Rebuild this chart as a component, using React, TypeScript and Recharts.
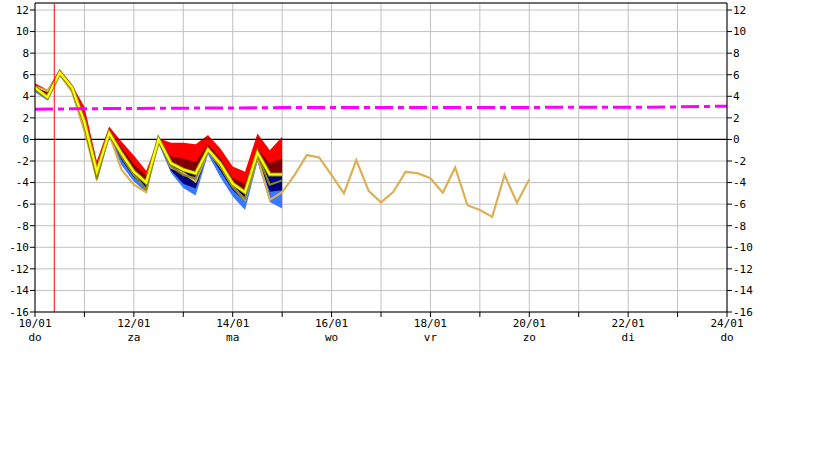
import React from "react";
import {
  ComposedChart,
  Area,
  Line,
  XAxis,
  YAxis,
  CartesianGrid,
  ReferenceLine,
} from "recharts";

// 6-hourly steps from 10/01 00:00, ensemble band (first 5 days)
const bandMax = [5.2, 4.6, 6.5, 5.1, 3.0, -2.0, 1.2, -0.2, -1.5, -2.9, 0.1, -0.3, -0.3, -0.45, 0.4, -0.85, -2.5, -3.0, 0.55, -1.0, 0.24];
const bandP75 = [5.0, 4.3, 6.4, 4.9, 2.2, -2.5, 0.9, -0.8, -2.3, -3.4, 0.0, -1.6, -1.8, -2.1, -0.5, -1.8, -3.6, -4.1, -0.9, -2.2, -1.76];
const bandMed = [4.8, 4.0, 6.2, 4.8, 1.6, -3.0, 0.6, -1.3, -3.0, -4.0, -0.1, -2.2, -2.8, -3.15, -0.93, -2.3, -4.1, -4.9, -1.24, -3.25, -3.25];
const bandP25 = [4.6, 3.8, 6.1, 4.6, 1.1, -3.4, 0.4, -1.9, -3.5, -4.5, -0.2, -2.85, -4.1, -4.55, -1.15, -2.9, -4.7, -5.7, -1.7, -4.85, -4.7];
const bandMin = [4.4, 3.6, 6.0, 4.4, 0.6, -3.7, 0.2, -2.4, -3.9, -4.9, -0.4, -3.1, -4.5, -5.2, -1.4, -3.5, -5.3, -6.55, -2.1, -5.8, -6.4];
const yellowRun = [4.8, 3.9, 6.2, 4.8, 1.6, -3.0, 0.6, -1.3, -3.0, -4.0, 0.0, -2.2, -2.8, -3.15, -0.93, -2.25, -4.1, -4.9, -1.24, -3.25, -3.25];
const oliveRun = [4.7, 3.8, 6.1, 4.7, 1.4, -3.7, 0.5, -1.6, -3.3, -4.6, -0.1, -2.5, -3.3, -3.6, -1.0, -2.5, -4.4, -5.5, -1.5, -4.2, -3.8];
// 6-hourly, 10 days
const tanRun = [
  4.9, 4.5, 6.0, 4.4, 0.8, -3.6, 0.5, -2.8, -4.2, -4.9, 0.1, -2.6, -3.1, -3.9, -1.1, -2.5, -4.4, -5.6, -1.6, -5.6, -4.9,
  -3.3, -1.45, -1.67, -3.3, -5.0, -1.92, -4.77, -5.84, -4.86, -3.0, -3.15, -3.6, -4.95, -2.6, -6.1, -6.55, -7.18, -3.3, -5.87, -3.7,
];
// daily climate normal
const normal = [2.8, 2.85, 2.87, 2.9, 2.92, 2.95, 2.96, 2.97, 2.97, 2.97, 2.97, 2.98, 2.98, 3.02, 3.08];

const dayTicks = [0, 1, 2, 3, 4, 5, 6, 7, 8, 9, 10, 11, 12, 13, 14];
const dateLabels = ["10/01", "12/01", "14/01", "16/01", "18/01", "20/01", "22/01", "24/01"];
const weekdayLabels = ["do", "za", "ma", "wo", "vr", "zo", "di", "do"];
const tempTicks = [-16, -14, -12, -10, -8, -6, -4, -2, 0, 2, 4, 6, 8, 10, 12];
const nowDay = 0.39;
const yTop = 12.65;

const rows: any[] = [];
for (let i = 0; i <= 56; i++) {
  const r: any = { t: i / 4 };
  if (i < bandMax.length) {
    r.red = [bandMed[i], bandMax[i]];
    r.darkred = [bandMed[i], bandP75[i]];
    r.blue = [bandMin[i], bandMed[i]];
    r.navy = [bandP25[i], bandMed[i]];
    r.yellow = yellowRun[i];
    r.olive = oliveRun[i];
  }
  if (i < tanRun.length) r.tan = tanRun[i];
  if (i % 4 === 0) r.normal = normal[i / 4];
  rows.push(r);
}

const FONT = "'DejaVu Sans Mono', monospace";

function DayTick(props: any) {
  const { x, y, payload } = props;
  const d = payload.value;
  if (d % 2 !== 0) return <g />;
  return (
    <text x={x} y={y} textAnchor="middle" fontFamily={FONT} fontSize={11} fill="#000">
      <tspan x={x} dy="0.71em">{dateLabels[d / 2]}</tspan>
      <tspan x={x} dy="1.3em">{weekdayLabels[d / 2]}</tspan>
    </text>
  );
}

export default function App() {
  const tickStyle = { fontFamily: FONT, fontSize: 11, fill: "#000" };
  return (
    <div style={{ background: "#fff" }}>
      <style>{`body{margin:0}`}</style>
      <ComposedChart width={819} height={460} data={rows} margin={{ top: 3, right: 0, bottom: 0, left: 0 }}>
        <CartesianGrid stroke="#c0c0c0" strokeWidth={1} />
        <XAxis
          dataKey="t"
          type="number"
          domain={[0, 14]}
          ticks={dayTicks}
          interval={0}
          height={148}
          tickSize={5}
          tickMargin={2}
          tick={<DayTick />}
          stroke="#000"
          tickLine={{ stroke: "#000" }}
        />
        <YAxis
          domain={[-16, yTop]}
          ticks={tempTicks}
          interval={0}
          width={35}
          tickSize={5}
          tickMargin={1}
          tick={tickStyle}
          stroke="#000"
          allowDataOverflow
        />
        <YAxis
          yAxisId="right"
          orientation="right"
          domain={[-16, yTop]}
          ticks={tempTicks}
          interval={0}
          width={92}
          tickSize={5}
          tickMargin={1}
          tick={tickStyle}
          stroke="#000"
          allowDataOverflow
        />
        <ReferenceLine y={yTop} stroke="#000" />
        <ReferenceLine y={0} stroke="#000" strokeWidth={1.2} />
        <Area dataKey="red" type="linear" stroke="none" fill="#ff0000" fillOpacity={1} isAnimationActive={false} />
        <Area dataKey="darkred" type="linear" stroke="none" fill="#800000" fillOpacity={1} isAnimationActive={false} />
        <Area dataKey="blue" type="linear" stroke="none" fill="#3a78ff" fillOpacity={1} isAnimationActive={false} />
        <Area dataKey="navy" type="linear" stroke="none" fill="#000080" fillOpacity={1} isAnimationActive={false} />
        <Line dataKey="tan" type="linear" stroke="#dcb055" strokeWidth={2.2} dot={false} isAnimationActive={false} />
        <Line dataKey="olive" type="linear" stroke="#8a8a10" strokeWidth={2} dot={false} isAnimationActive={false} />
        <Line dataKey="yellow" type="linear" stroke="#8a8a10" strokeWidth={4} dot={false} isAnimationActive={false} />
        <Line dataKey="yellow" type="linear" stroke="#ffff00" strokeWidth={2.2} dot={false} isAnimationActive={false} />
        <Line
          dataKey="normal"
          type="linear"
          stroke="#ff00ff"
          strokeWidth={3}
          strokeDasharray="18 5 6 5"
          connectNulls
          dot={false}
          isAnimationActive={false}
        />
        <ReferenceLine x={nowDay} stroke="#ff0000" strokeWidth={1} />
      </ComposedChart>
    </div>
  );
}
